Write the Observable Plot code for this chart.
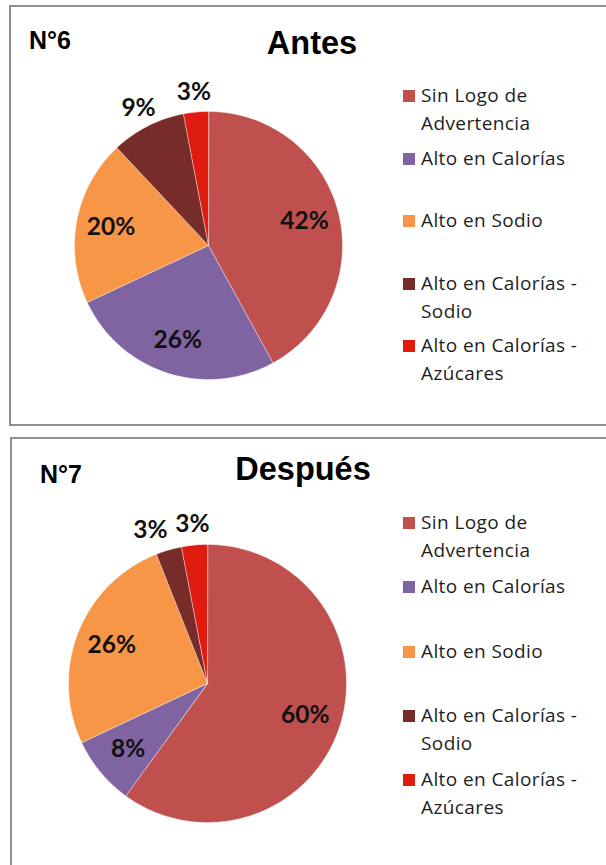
<!DOCTYPE html>
<html><head><meta charset="utf-8">
<script src="https://cdn.jsdelivr.net/npm/d3@7"></script>
<script src="https://cdn.jsdelivr.net/npm/@observablehq/plot@0.6"></script>
<style>
html,body{margin:0;padding:0;background:#fff;}
body{width:606px;height:865px;overflow:hidden;position:relative;font-family:Lato,"Open Sans",sans-serif;}
.panel{position:absolute;border:2px solid #8f8f8f;box-sizing:border-box;}
.abs{position:absolute;white-space:nowrap;}
.num{font-family:"Liberation Sans",Arial,sans-serif;font-weight:bold;font-size:25px;color:#000;line-height:1;}
.title{font-family:"Liberation Sans",Arial,sans-serif;font-weight:bold;font-size:32.5px;color:#000;line-height:1;transform:translateX(-50%);}
.sw{position:absolute;width:12px;height:12px;}
.lt{position:absolute;font-family:"Open Sans",Lato,sans-serif;font-size:19px;letter-spacing:0.4px;line-height:28px;color:#1e1e1e;white-space:nowrap;}
.chart{position:absolute;left:0;}
</style></head><body>
<div id="root"></div>
<script>
// ---- data ----
const categories = ["Sin Logo de Advertencia", "Alto en Calorías", "Alto en Sodio", "Alto en Calorías - Sodio", "Alto en Calorías - Azúcares"];
const legendLines = [["Sin Logo de", "Advertencia"], ["Alto en Calorías"], ["Alto en Sodio"], ["Alto en Calorías -", "Sodio"], ["Alto en Calorías -", "Azúcares"]];
const antesValues = [42, 26, 20, 9, 3];
const despuesValues = [60, 8, 26, 3, 3];
const colors = ["#C0504D", "#8064A2", "#F79646", "#772C2A", "#E01B10"];
const chartNumbers = ["N°6", "N°7"];
const chartTitles = ["Antes", "Después"];

// ---- layout ----
const panels = [
  {values: antesValues, num: chartNumbers[0], title: chartTitles[0], top: 5, height: 421, left: 9,
   numX: 29, numTop: 28, titleX: 312, titleTop: 27, cx: 208, cy: 240, r: 134,
   outside: [3, 4], legendStart: 96, legendStep: 62.5},
  {values: despuesValues, num: chartNumbers[1], title: chartTitles[1], top: 437, height: 440, left: 10,
   numX: 40, numTop: 462, titleX: 303, titleTop: 453, cx: 207, cy: 246, r: 139,
   outside: [3, 4], legendStart: 523, legendStep: 64.25}
];

const root = document.getElementById("root");

function el(tag, cls, style, text) {
  const e = document.createElement(tag);
  if (cls) e.className = cls;
  Object.assign(e.style, style || {});
  if (text != null) e.textContent = text;
  root.appendChild(e);
  return e;
}

for (const p of panels) {
  el("div", "panel", {left: p.left + "px", top: p.top + "px", width: (640 - p.left) + "px", height: p.height + "px"});
  el("div", "abs num", {left: p.numX + "px", top: p.numTop + "px"}, p.num);
  el("div", "abs title", {left: p.titleX + "px", top: p.titleTop + "px"}, p.title);

  // slices
  const total = d3.sum(p.values);
  const pts = [];
  const labels = [];
  let cum = 0;
  p.values.forEach((v, i) => {
    const a0 = cum / total * 2 * Math.PI;
    cum += v;
    const a1 = cum / total * 2 * Math.PI;
    const cat = categories[i];
    pts.push({cat, x: 0, y: 0});
    const n = Math.max(2, Math.ceil((a1 - a0) / (Math.PI / 180)));
    for (let k = 0; k <= n; k++) {
      const a = a0 + (a1 - a0) * k / n;
      pts.push({cat, x: Math.sin(a), y: Math.cos(a)});
    }
    const mid = (a0 + a1) / 2;
    const out = p.outside.includes(i);
    const rf = out ? 1.15 : 0.74;
    labels.push({x: rf * Math.sin(mid), y: rf * Math.cos(mid), text: v + "%", out});
  });
  // avoid overlap between neighbouring outside labels (shift the earlier one left)
  const minGap = 42 / p.r;
  for (let i = labels.length - 2; i >= 0; i--) {
    const a = labels[i], b = labels[i + 1];
    if (a.out && b.out && Math.abs(a.y - b.y) < 22 / p.r && b.x - a.x < minGap) a.x = b.x - minGap;
  }

  const H = 430;
  const chart = Plot.plot({
    width: 390, height: H, margin: 0,
    style: {background: "transparent", fontFamily: "Lato, sans-serif", overflow: "visible"},
    x: {domain: [-1, 1], range: [p.cx - p.r, p.cx + p.r], axis: null},
    y: {domain: [-1, 1], range: [p.cy + p.r, p.cy - p.r], axis: null},
    color: {domain: categories, range: colors},
    marks: [
      Plot.line(pts, {x: "x", y: "y", z: "cat", fill: "cat", stroke: "white", strokeWidth: 0.6, strokeOpacity: 0.7, curve: "linear-closed"}),
      Plot.text(labels, {x: "x", y: "y", text: "text", fontSize: 24.5, fontWeight: "bold", fill: "#111", fontFamily: "Lato, sans-serif"})
    ]
  });
  chart.classList.add("chart");
  chart.style.position = "absolute";
  chart.style.left = "0px";
  chart.style.top = p.top + "px";
  root.appendChild(chart);

  // legend
  categories.forEach((c, i) => {
    const cy = p.legendStart + i * p.legendStep;
    el("div", "sw", {left: "403px", top: (cy - 6) + "px", background: colors[i]});
    legendLines[i].forEach((line, j) => {
      el("div", "lt", {left: "421px", top: (cy - 15 + j * 28) + "px"}, line);
    });
  });
}
</script>
</body></html>
